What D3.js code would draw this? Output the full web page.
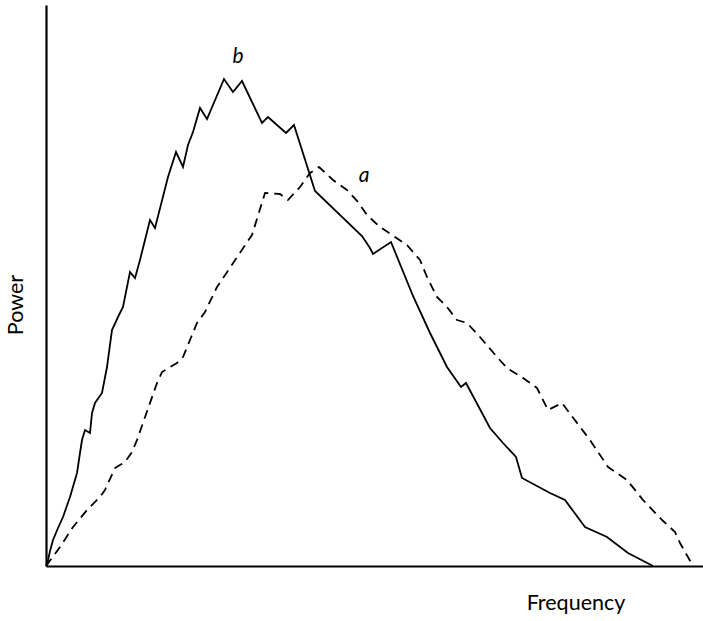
<!DOCTYPE html>
<html>
<head>
<meta charset="utf-8">
<script src="https://cdn.jsdelivr.net/npm/d3@7"></script>
<style>
  html, body { margin: 0; padding: 0; background: #fff; }
  svg { display: block; }
</style>
</head>
<body>
<svg id="chart" width="703" height="621"></svg>
<script>
// Series b (solid): [frequency, power] in arbitrary units
const seriesBFreq = [0,1,4,7,12,17,24,31,34,36,39,44,46,49,56,61,66,72,77,84,89,94,104,109,122,130,137,142,147,154,161,178,187,196,216,222,240,248,269,316,324,327,345,367,384,401,415,420,444,457,470,476,504,519,539,561,582,607];
const seriesBPower = [0,1,15,26,38,49,69,93,113,126,136,133,153,163,173,199,236,249,259,294,288,306,346,338,389,414,399,421,434,458,447,487,474,485,443,449,433,441,375,330,318,312,324,270,233,199,179,183,138,123,109,88,73,66,39,29,13,0];
// Series a (dashed)
const seriesAFreq = [0,14,27,41,54,59,69,79,86,91,111,116,131,137,151,159,171,206,219,234,242,254,264,273,287,301,312,321,334,349,361,374,381,391,401,411,421,434,451,461,477,491,502,516,522,544,562,581,597,616,629,634,647];
const seriesAPower = [0,19,39,56,69,76,98,104,114,126,183,194,203,209,243,254,279,331,373,372,366,379,393,399,386,376,364,351,339,329,321,306,289,269,259,246,243,229,209,198,188,178,156,163,155,126,99,86,66,46,34,23,0];
const seriesLabels = ["b", "a"];
const labelPos = [[192, 503], [318, 384]]; // [frequency, power] where the letter sits
const xTitle = "Frequency";
const yTitle = "Power";

const svg = d3.select("#chart");
const margin = {left: 46, top: 5, right: 0, bottom: 55};
const W = 703, H = 621;
const x = d3.scaleLinear().domain([0, 657]).range([margin.left, W - margin.right]);
const y = d3.scaleLinear().domain([0, 561]).range([H - margin.bottom, margin.top]);

const line = d3.line().x(d => x(d[0])).y(d => y(d[1]));
const bData = seriesBFreq.map((f, i) => [f, seriesBPower[i]]);
const aData = seriesAFreq.map((f, i) => [f, seriesAPower[i]]);

svg.append("path").datum(aData).attr("d", line)
  .attr("fill", "none").attr("stroke", "#000").attr("stroke-width", 1.8)
  .attr("stroke-dasharray", "9,6").attr("stroke-linejoin", "round");
svg.append("path").datum(bData).attr("d", line)
  .attr("fill", "none").attr("stroke", "#000").attr("stroke-width", 1.8)
  .attr("stroke-linejoin", "miter");

// axes (no ticks)
const xAxis = d3.axisBottom(x).tickValues([]).tickSizeOuter(0);
const yAxis = d3.axisLeft(y).tickValues([]).tickSizeOuter(0);
svg.append("g").attr("transform", `translate(0,${y(0)})`).call(xAxis)
  .select(".domain").attr("stroke-width", 2.2);
svg.append("g").attr("transform", `translate(${x(0)},0)`).call(yAxis)
  .select(".domain").attr("stroke-width", 2.2);

const font = "Lato, 'Open Sans', sans-serif";
seriesLabels.forEach((t, i) => {
  svg.append("text").attr("x", x(labelPos[i][0])).attr("y", y(labelPos[i][1]))
    .attr("text-anchor", "middle").attr("font-family", font)
    .attr("font-style", "italic").attr("font-size", 21).text(t);
});

svg.append("text").attr("x", 576).attr("y", 610).attr("text-anchor", "middle")
  .attr("font-family", font).attr("font-size", 21.5).text(xTitle);
svg.append("text").attr("transform", "translate(23,305) rotate(-90)")
  .attr("text-anchor", "middle").attr("font-family", font).attr("font-size", 21.5).text(yTitle);
</script>
</body>
</html>
